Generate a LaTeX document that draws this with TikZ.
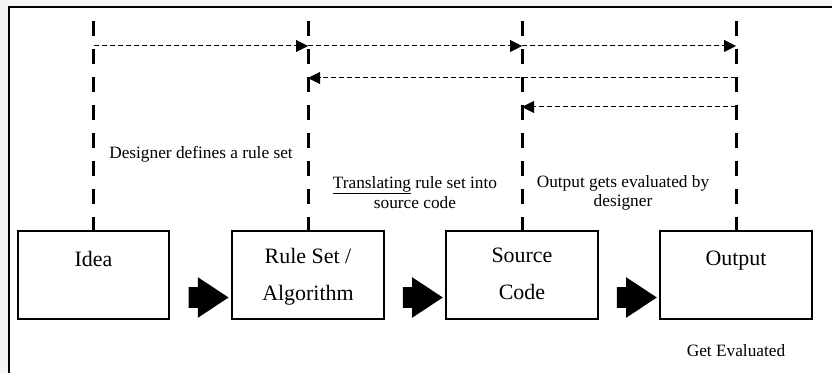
\documentclass[tikz,border=0pt]{standalone}
\usepackage{fontspec}
\setmainfont{Liberation Serif}
\usetikzlibrary{arrows.meta,shapes.arrows,calc}
\tikzset{
  box/.style={draw, line width=0.05cm, minimum width=3.775cm, minimum height=2.2cm, inner sep=0},
  boxtext/.style={font=\fontsize{15.6}{27}\selectfont, align=center, anchor=base, inner sep=0},
  note/.style={font=\fontsize{12.3}{14.2}\selectfont, align=center, anchor=base, inner sep=0},
  life/.style={line width=0.075cm, dash pattern=on 0.375cm off 0.325cm},
  msg/.style={line width=0.025cm, dash pattern=on 0.125cm off 0.075cm, -{Triangle[length=0.3cm,width=0.3cm]}},
  push/.style={single arrow, fill=black, inner xsep=0, inner ysep=0.25cm, minimum height=1cm,
    single arrow head extend=0.25cm, single arrow tip angle=67}
}
\begin{document}
\begin{tikzpicture}[x=0.025cm, y=-0.025cm]
    \fill[black!4] (0,0) rectangle (832,373);
    \fill[white] (9,7) rectangle (832,373);
    \useasboundingbox (0,0) rectangle (832,373);
    \draw[line width=0.05cm] (9,373) -- (9,7) -- (832,7);

    \node[box] (idea) at (93.5,275) {};
    \node[box] (rules) at (308,275) {};
    \node[box] (code) at (522,275) {};
    \node[box] (output) at (736,275) {};

    \coordinate (top) at (0,21);
    \coordinate (m1) at (0,46);
    \coordinate (m2) at (0,78);
    \coordinate (m3) at (0,107);

    \foreach \n in {idea,rules,code,output}
        \draw[life] (\n |- top) -- (\n.north);
    \foreach \a/\b in {idea/rules,rules/code,code/output}
        \draw[msg] (\a |- m1) -- (\b |- m1);
    \draw[msg] (output |- m2) -- (rules |- m2);
    \draw[msg] (output |- m3) -- (code |- m3);

    \foreach \a/\b in {idea/rules,rules/code,code/output}
        \node[push] (\a2\b) at ($(\a.east)!0.5!(\b.west)+(0,22.5)$) {};

    % base is the last line of the node
    \node[boxtext] (ideatext) at ($(idea.north)+(0,37)$) {Idea};
    \node[boxtext] (rulestext) at ($(rules.north)+(0,71)$) {Rule Set /\\Algorithm};
    \node[boxtext] (codetext) at ($(code.north)+(0,70)$) {Source\\Code};
    \node[boxtext] (outputtext) at ($(output.north)+(0,36)$) {Output};

    \node[note] (define) at (201,159) {Designer defines a rule set};
    \node[note] (translate) at (415,208) {\underline{Translating} rule set into\\source code};
    \node[note] (evaluate) at (623,207) {Output gets evaluated by\\designer};
    \node[note] (evaluated) at ($(output.south)+(0,36)$) {Get Evaluated};
\end{tikzpicture}
\end{document}
